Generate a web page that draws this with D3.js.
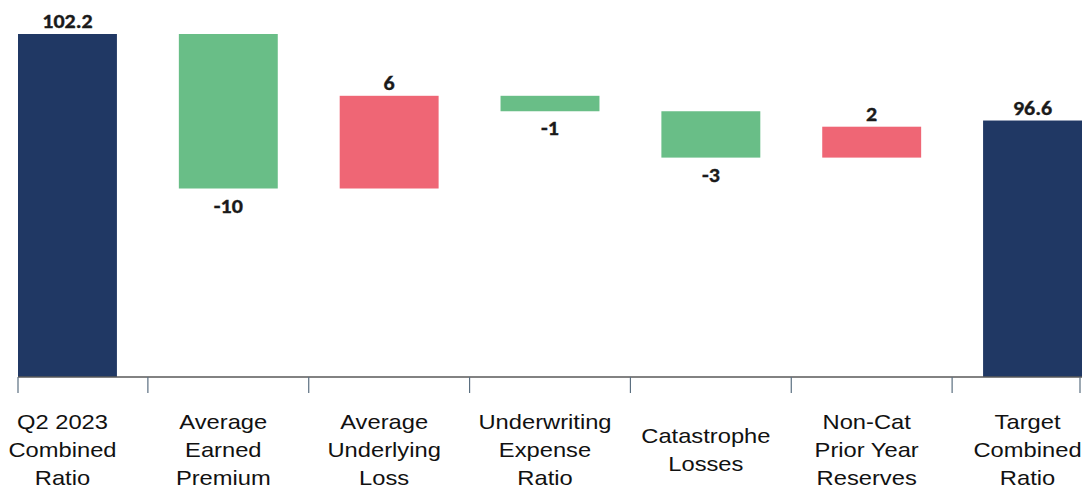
<!DOCTYPE html>
<html>
<head>
<meta charset="utf-8">
<script src="https://cdn.jsdelivr.net/npm/d3@7"></script>
<style>
  html, body { margin: 0; padding: 0; background: #fff; }
  svg { display: block; }
</style>
</head>
<body>
<svg id="chart" width="1090" height="492"></svg>
<script>
// Combined ratio bridge: start total, step changes, end total
const categories = [
  "Q2 2023\nCombined\nRatio",
  "Average\nEarned\nPremium",
  "Average\nUnderlying\nLoss",
  "Underwriting\nExpense\nRatio",
  "Catastrophe\nLosses",
  "Non-Cat\nPrior Year\nReserves",
  "Target\nCombined\nRatio"
];
const values = [102.2, -10, 6, -1, -3, 2, 96.6];
const kinds = ["total", "delta", "delta", "delta", "delta", "delta", "total"];
const valueLabels = ["102.2", "-10", "6", "-1", "-3", "2", "96.6"];
const axisMin = 80;

const colors = { total: "#203864", up: "#ef6675", down: "#69be87" };

const svg = d3.select("#chart");

const x = d3.scaleBand()
  .domain(categories)
  .range([18, 1082])
  .paddingInner(0.385)
  .paddingOuter(0);

const y = d3.scaleLinear()
  .domain([axisMin, 102.2])
  .range([377, 34]);

// Build floating segments for the waterfall
let running = 0;
const bars = categories.map((c, i) => {
  const v = values[i];
  let lo, hi, type;
  if (kinds[i] === "total") {
    lo = axisMin; hi = v; running = v; type = "total";
  } else {
    const start = running, end = running + v;
    lo = Math.min(start, end); hi = Math.max(start, end);
    running = end;
    type = v >= 0 ? "up" : "down";
  }
  return { c, v, lo, hi, type, label: valueLabels[i] };
});

svg.append("g").selectAll("rect")
  .data(bars)
  .join("rect")
  .attr("x", d => x(d.c))
  .attr("width", x.bandwidth())
  .attr("y", d => y(d.hi))
  .attr("height", d => y(d.lo) - y(d.hi))
  .attr("fill", d => colors[d.type]);

// Value labels: above for totals and increases, below for decreases
const sx = 1.1;
svg.append("g").selectAll("text")
  .data(bars)
  .join("text")
  .attr("transform", d => {
    const cx = x(d.c) + x.bandwidth() / 2;
    const ty = d.type === "down" ? y(d.lo) + 24 : y(d.hi) - 6;
    return `translate(${cx},${ty}) scale(${sx},1)`;
  })
  .attr("text-anchor", "middle")
  .attr("font-family", "Carlito, Calibri, Lato, sans-serif")
  .attr("font-weight", "bold")
  .attr("font-size", 20)
  .attr("fill", "#1a1a1a")
  .attr("stroke", "#1a1a1a")
  .attr("stroke-width", 0.35)
  .text(d => d.label);

// Category axis
const axisY = y(axisMin);
const r = x.range();
const centers = categories.map(c => x(c) + x.bandwidth() / 2);
const tickXs = [r[0]];
for (let i = 0; i < centers.length - 1; i++) tickXs.push((centers[i] + centers[i + 1]) / 2);
tickXs.push(r[1] - 2);

svg.append("line")
  .attr("x1", r[0]).attr("x2", r[1])
  .attr("y1", axisY).attr("y2", axisY)
  .attr("stroke", "#595959").attr("stroke-width", 1.3);

svg.append("g").selectAll("line")
  .data(tickXs)
  .join("line")
  .attr("x1", d => d).attr("x2", d => d)
  .attr("y1", axisY).attr("y2", axisY + 16)
  .attr("stroke", "#5b6f80").attr("stroke-width", 1.2);

const lineH = 28.5;
const midBaseline = 457;
const lab = svg.append("g").selectAll("text")
  .data(categories)
  .join("text")
  .attr("transform", (c, i) => {
    const n = c.split("\n").length;
    const first = midBaseline - (n - 1) / 2 * lineH;
    return `translate(${centers[i] - 5},${first}) scale(1.13,1)`;
  })
  .attr("text-anchor", "middle")
  .attr("font-family", "Liberation Sans, Arial, sans-serif")
  .attr("font-size", 21)
  .attr("fill", "#111");

lab.selectAll("tspan")
  .data(c => c.split("\n"))
  .join("tspan")
  .attr("x", 0)
  .attr("dy", (d, j) => j === 0 ? 0 : lineH)
  .text(d => d);
</script>
</body>
</html>
